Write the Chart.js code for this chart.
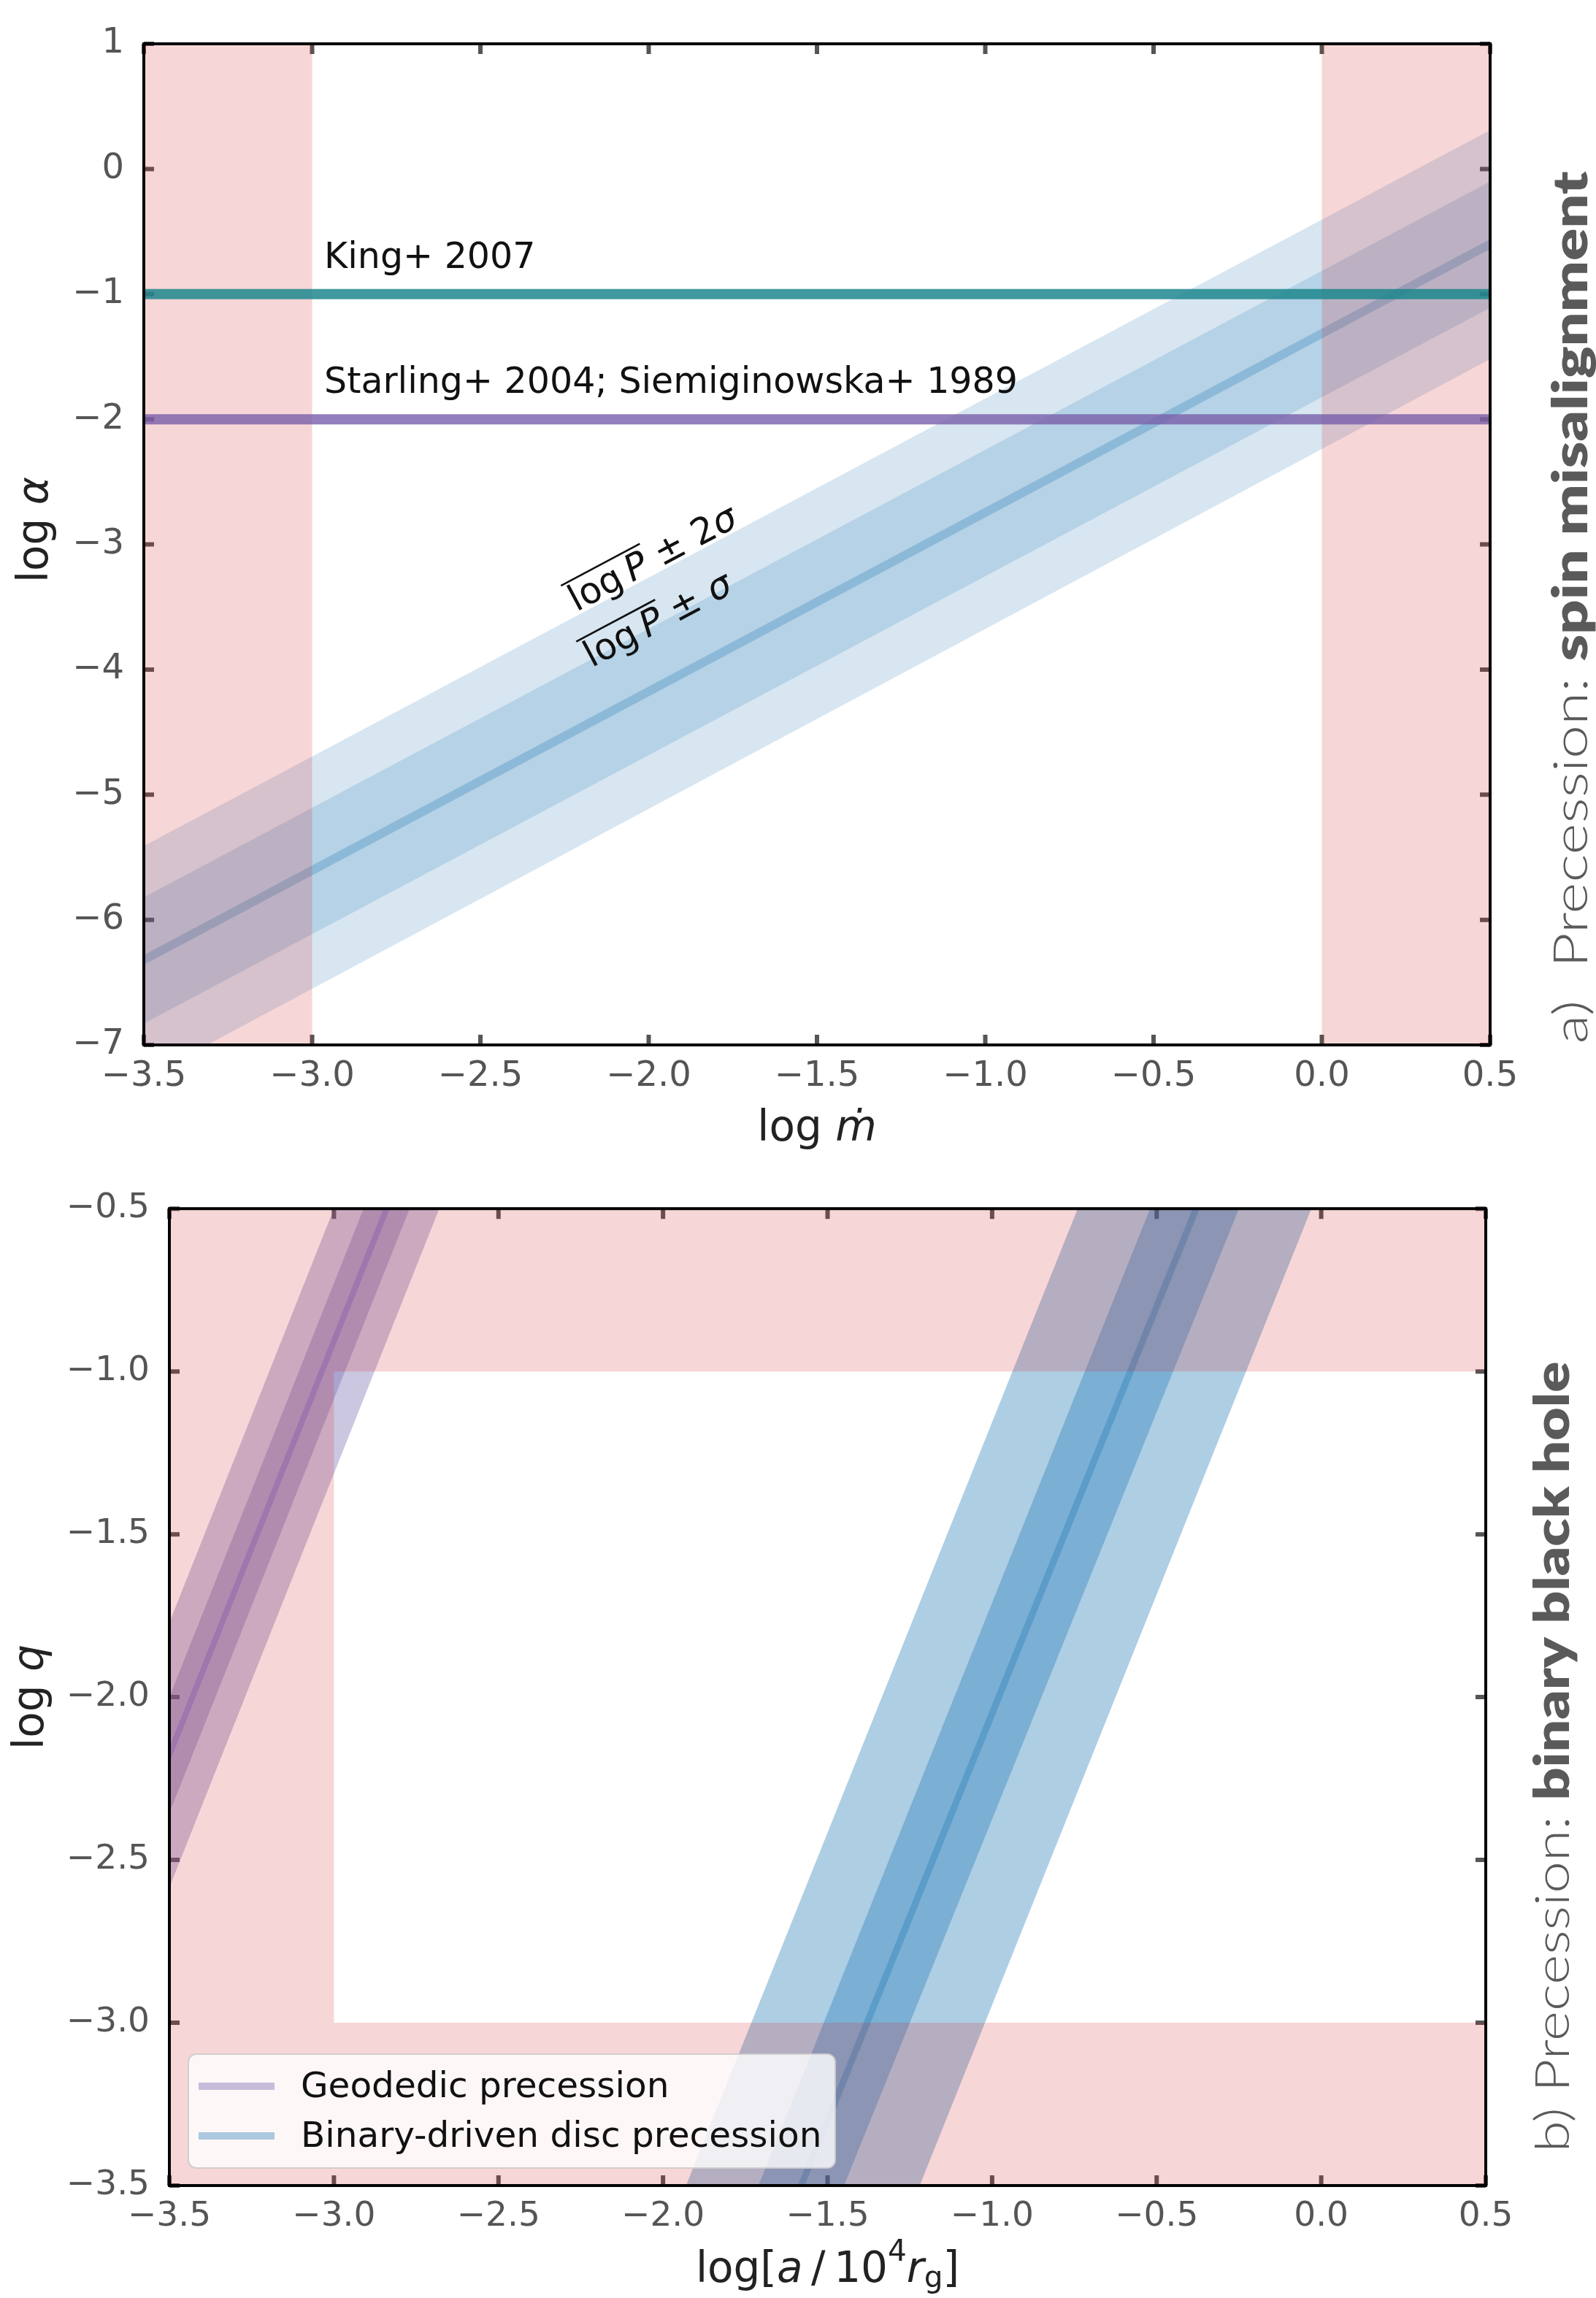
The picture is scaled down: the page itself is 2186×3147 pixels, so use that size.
<!DOCTYPE html>
<html>
<head>
<meta charset="utf-8">
<script src="https://cdn.jsdelivr.net/npm/chart.js@4.4.0/dist/chart.umd.min.js"></script>
<style>
  html, body { margin: 0; padding: 0; background: #ffffff; }
  #wrap { position: relative; width: 2186px; height: 3147px; overflow: hidden; }
  .panel { position: absolute; left: 0; width: 2186px; }
</style>
</head>
<body>
<div id="wrap">
  <div class="panel" style="top:0;height:1600px"><canvas id="chartA"></canvas></div>
  <div class="panel" style="top:1600px;height:1547px"><canvas id="chartB"></canvas></div>
</div>
<script>
// ---------------- DATA: panel a (spin misalignment) ----------------
const aXRange = [-3.5, 0.5];
const aYRange = [-7, 1];
const aBandX = [-3.5, 0.5];           // log m-dot at the two ends of the band
const aMean = [-6.32, -0.60];         // mean log alpha
const aSig1Lo = [-6.83, -1.11];
const aSig1Hi = [-5.82, -0.10];
const aSig2Lo = [-7.27, -1.52];
const aSig2Hi = [-5.41, 0.31];
const aKingY = [-1, -1];              // King+ 2007
const aStarlingY = [-2, -2];          // Starling+ 2004; Siemiginowska+ 1989
const aExcludedX = [[-3.5, -3.0], [0.0, 0.5]];
const aLabels = ['King+ 2007', 'Starling+ 2004; Siemiginowska+ 1989'];

// ---------------- DATA: panel b (binary black hole) ----------------
const bXRange = [-3.5, 0.5];
const bYRange = [-3.5, -0.5];
const bBandY = [-3.5, -0.5];          // log q at the two ends of the bands
const bBlueMean = [-1.58, -0.38];     // log a for binary-driven disc precession
const bBlue1Lo = [-1.71, -0.52];
const bBlue1Hi = [-1.45, -0.25];
const bBlue2Lo = [-1.93, -0.74];
const bBlue2Hi = [-1.22, -0.03];
const bGeoMean = [-4.02, -2.84];      // log a for geodetic precession
const bGeo1Lo = [-4.09, -2.91];
const bGeo1Hi = [-3.95, -2.77];
const bGeo2Lo = [-4.18, -3.00];
const bGeo2Hi = [-3.86, -2.68];
const bExcluded = [                   // [xmin, xmax, ymin, ymax]
  [-3.5, -3.0, -3.5, -0.5],
  [-3.0, 0.5, -1.0, -0.5],
  [-3.0, 0.5, -3.5, -3.0]
];
const bLegendLabels = ['Geodedic precession', 'Binary-driven disc precession'];

// ---------------- helpers ----------------
const FAM = "'DejaVu Sans', 'Liberation Sans', sans-serif";
const fmt1 = v => (v < 0 ? '\u2212' : '') + Math.abs(v).toFixed(1);
const fmt0 = v => (v < 0 ? '\u2212' : '') + Math.abs(Math.round(v));

function bandXY(xs, lo, hi) {        // band defined along x
  return [{x: xs[0], y: lo[0]}, {x: xs[1], y: lo[1]}, {x: xs[1], y: hi[1]}, {x: xs[0], y: hi[0]}, {x: xs[0], y: lo[0]}];
}
function bandYX(ys, lo, hi) {        // band defined along y
  return [{x: lo[0], y: ys[0]}, {x: lo[1], y: ys[1]}, {x: hi[1], y: ys[1]}, {x: hi[0], y: ys[0]}, {x: lo[0], y: ys[0]}];
}
function rect(x0, x1, y0, y1) {
  return [{x: x0, y: y0}, {x: x1, y: y0}, {x: x1, y: y1}, {x: x0, y: y1}, {x: x0, y: y0}];
}
function shapeDS(data, color, order) {
  return {type: 'line', data, fill: 'shape', backgroundColor: color, borderColor: 'rgba(0,0,0,0)',
          borderWidth: 0, pointRadius: 0, pointHoverRadius: 0, tension: 0, order, clip: 0};
}
function lineDS(data, color, width, order) {
  return {type: 'line', data, fill: false, borderColor: color, borderWidth: width, pointRadius: 0,
          pointHoverRadius: 0, tension: 0, order, clip: 0, borderCapStyle: 'butt'};
}
function setFont(ctx, size, it, weight, fam) {
  ctx.font = (it ? 'italic ' : '') + (weight || 'normal') + ' ' + size + 'px ' + (fam || FAM);
}
function measureRich(ctx, parts, size) {
  let w = 0;
  for (const p of parts) { setFont(ctx, size * (p.s || 1), p.it); w += ctx.measureText(p.t).width; }
  return w;
}
function drawRich(ctx, parts, size, x, y) {
  let cx = x; const spans = [];
  for (const p of parts) {
    setFont(ctx, size * (p.s || 1), p.it);
    const w = ctx.measureText(p.t).width;
    ctx.fillText(p.t, cx, y + (p.dy || 0) * size);
    spans.push([cx, cx + w]);
    cx += w;
  }
  return spans;
}

// inward ticks on all four sides (drawn under the data like the reference)
const tickPlugin = {
  id: 'inTicks',
  beforeDatasetsDraw(chart) {
    const {ctx, chartArea: a, scales: {x, y}} = chart;
    ctx.save();
    ctx.strokeStyle = '#555555'; ctx.lineWidth = 6; ctx.lineCap = 'butt';
    const L = 14;
    ctx.beginPath();
    x.ticks.forEach(t => {
      const p = x.getPixelForValue(t.value);
      ctx.moveTo(p, a.bottom); ctx.lineTo(p, a.bottom - L);
      ctx.moveTo(p, a.top); ctx.lineTo(p, a.top + L);
    });
    y.ticks.forEach(t => {
      const p = y.getPixelForValue(t.value);
      ctx.moveTo(a.left, p); ctx.lineTo(a.left + L, p);
      ctx.moveTo(a.right, p); ctx.lineTo(a.right - L, p);
    });
    ctx.stroke();
    ctx.restore();
  }
};
const framePlugin = {
  id: 'frame',
  afterDatasetsDraw(chart) {
    const {ctx, chartArea: a} = chart;
    ctx.save(); ctx.strokeStyle = '#000'; ctx.lineWidth = 4;
    ctx.strokeRect(a.left, a.top, a.right - a.left, a.bottom - a.top);
    ctx.restore();
  }
};
// axis titles with mixed upright / italic glyphs (matplotlib mathtext look)
const titlePlugin = {
  id: 'mathTitles',
  afterDraw(chart, args, o) {
    const {ctx, chartArea: a} = chart;
    ctx.save(); ctx.fillStyle = '#222'; ctx.textBaseline = 'middle';
    const size = o.size;
    const wx = measureRich(ctx, o.x, size);
    drawRich(ctx, o.x, size, (a.left + a.right) / 2 - wx / 2, a.bottom + o.xOff);
    ctx.translate(a.left - o.yOff, (a.top + a.bottom) / 2 + (o.yShift || 0));
    ctx.rotate(-Math.PI / 2);
    const wy = measureRich(ctx, o.y, size);
    drawRich(ctx, o.y, size, -wy / 2, 0);
    ctx.restore();
  }
};
// vertical panel captions at the right (light + bold)
const sideLabelPlugin = {
  id: 'sideLabel',
  afterDraw(chart, args, o) {
    const {ctx} = chart;
    ctx.save();
    ctx.fillStyle = '#5a5a5a'; ctx.textBaseline = 'alphabetic';
    const size = 66;
    let w = 0;
    for (const p of o.parts) { setFont(ctx, size, false, p.w, "Lato, 'Open Sans', sans-serif"); w += ctx.measureText(p.t).width; }
    ctx.translate(o.cx, o.cy);
    ctx.rotate(-Math.PI / 2);
    ctx.scale(o.len / w, 1);
    let cx = -w / 2;
    for (const p of o.parts) {
      setFont(ctx, size, false, p.w, "Lato, 'Open Sans', sans-serif");
      ctx.fillText(p.t, cx, size * 0.36);
      cx += ctx.measureText(p.t).width;
    }
    ctx.restore();
  }
};
// text annotations in data coordinates
const annotPlugin = {
  id: 'annot',
  afterDatasetsDraw(chart, args, o) {
    const {ctx, scales: {x, y}} = chart;
    ctx.save(); ctx.fillStyle = '#111'; ctx.textBaseline = 'alphabetic';
    for (const t of (o.plain || [])) {
      setFont(ctx, t.size);
      ctx.fillText(t.text, x.getPixelForValue(t.x), y.getPixelForValue(t.y));
    }
    for (const t of (o.rich || [])) {
      const ang = Math.atan2(y.getPixelForValue(t.along[1][1]) - y.getPixelForValue(t.along[0][1]),
                             x.getPixelForValue(t.along[1][0]) - x.getPixelForValue(t.along[0][0]));
      ctx.save();
      ctx.translate(x.getPixelForValue(t.x), y.getPixelForValue(t.y));
      ctx.rotate(ang);
      const w = measureRich(ctx, t.parts, t.size);
      const spans = drawRich(ctx, t.parts, t.size, -w / 2, t.size * 0.36);
      const x0 = spans[0][0], x1 = spans[t.over - 1][1];
      ctx.fillRect(x0 - 2, t.size * 0.36 - t.size * 0.86, x1 - x0 + 6, 2.6);
      ctx.restore();
    }
    ctx.restore();
  }
};
// legend box inside panel b
const legendPlugin = {
  id: 'boxLegend',
  afterDatasetsDraw(chart, args, o) {
    const {ctx, chartArea: a} = chart;
    const bx = a.left + 26, bh = 156, by = a.bottom - 24 - bh, bw = 886;
    ctx.save();
    ctx.beginPath();
    ctx.roundRect(bx, by, bw, bh, 11);
    ctx.fillStyle = 'rgba(255,255,255,0.8)'; ctx.fill();
    ctx.strokeStyle = 'rgba(204,204,204,0.9)'; ctx.lineWidth = 2; ctx.stroke();
    ctx.textBaseline = 'middle'; ctx.fillStyle = '#111';
    o.labels.forEach((lab, i) => {
      const ry = by + 44 + i * 68;
      ctx.strokeStyle = o.colors[i]; ctx.lineWidth = 10; ctx.lineCap = 'butt';
      ctx.beginPath(); ctx.moveTo(bx + 14, ry); ctx.lineTo(bx + 118, ry); ctx.stroke();
      setFont(ctx, 48.5);
      ctx.fillText(lab, bx + 154, ry + 2);
    });
    ctx.restore();
  }
};

function baseScales(xr, yr, xStep, yStep, yFmt, yW, xH, tickSize) {
  return {
    x: {type: 'linear', min: xr[0], max: xr[1],
        afterFit: s => { s.height = xH; },
        grid: {display: false, drawTicks: false}, border: {display: false},
        ticks: {stepSize: xStep, callback: v => fmt1(v), color: '#555', padding: 15,
                font: {family: FAM, size: tickSize}, maxRotation: 0, autoSkip: false}},
    y: {type: 'linear', min: yr[0], max: yr[1],
        afterFit: s => { s.width = yW; },
        grid: {display: false, drawTicks: false}, border: {display: false},
        ticks: {stepSize: yStep, callback: yFmt, color: '#555', padding: 27,
                font: {family: FAM, size: tickSize}, autoSkip: false}}
  };
}
const common = {
  responsive: true, maintainAspectRatio: false, animation: false, devicePixelRatio: 1,
  events: [],
  plugins: {legend: {display: false}, tooltip: {enabled: false}}
};

// ---------------- panel a ----------------
const pink = 'rgba(214,39,40,0.19)';
new Chart(document.getElementById('chartA'), {
  type: 'line',
  data: {datasets: [
    shapeDS(bandXY(aBandX, aSig2Lo, aSig2Hi), 'rgba(31,119,180,0.18)', 9),
    shapeDS(bandXY(aBandX, aSig1Lo, aSig1Hi), 'rgba(31,119,180,0.18)', 8),
    lineDS(aBandX.map((v, i) => ({x: v, y: aMean[i]})), 'rgba(31,119,180,0.28)', 12, 7),
    ...aExcludedX.map(r => shapeDS(rect(r[0], r[1], aYRange[0], aYRange[1]), pink, 6.5)),
    lineDS(aXRange.map((v, i) => ({x: v, y: aStarlingY[i]})), 'rgba(120,95,170,0.8)', 14, 6),
    lineDS(aXRange.map((v, i) => ({x: v, y: aKingY[i]})), 'rgba(29,135,141,0.85)', 14, 5)
  ]},
  options: Object.assign({}, common, {
    layout: {padding: {top: 60, right: 145, left: 0, bottom: 0}},
    scales: baseScales(aXRange, aYRange, 0.5, 1, v => fmt0(v), 197, 169, 48),
    plugins: Object.assign({}, common.plugins, {
      mathTitles: {size: 58, xOff: 116, yOff: 147, yShift: -20,
        x: [{t: 'log '}, {t: '\u1E41', it: true}],
        y: [{t: 'log '}, {t: '\u03B1', it: true}]},
      sideLabel: {cx: 2150, cy: 832, len: 1195,
        parts: [{t: 'a)  Precession: ', w: 300}, {t: 'spin misalignment', w: 800}]},
      annot: {
        plain: [{text: aLabels[0], x: -2.964, y: -0.79, size: 49},
                {text: aLabels[1], x: -2.964, y: -1.79, size: 49}],
        rich: [
          {x: -1.99, y: -3.10, size: 50, over: 3, along: [[aBandX[0], aMean[0]], [aBandX[1], aMean[1]]],
           parts: [{t: 'log'}, {t: '\u2009'}, {t: 'P', it: true}, {t: ' \u00B1 2'}, {t: '\u03C3', it: true}]},
          {x: -1.975, y: -3.59, size: 50, over: 3, along: [[aBandX[0], aMean[0]], [aBandX[1], aMean[1]]],
           parts: [{t: 'log'}, {t: '\u2009'}, {t: 'P', it: true}, {t: ' \u00B1 '}, {t: '\u03C3', it: true}]}
        ]}
    })
  }),
  plugins: [tickPlugin, framePlugin, titlePlugin, sideLabelPlugin, annotPlugin]
});

// ---------------- panel b ----------------
const geoCol = 'rgba(117,107,177,0.38)';
const blueCol = 'rgba(31,119,180,0.36)';
new Chart(document.getElementById('chartB'), {
  type: 'line',
  data: {datasets: [
    shapeDS(bandYX(bBandY, bGeo2Lo, bGeo2Hi), geoCol, 9),
    shapeDS(bandYX(bBandY, bGeo1Lo, bGeo1Hi), geoCol, 8),
    lineDS(bBandY.map((v, i) => ({x: bGeoMean[i], y: v})), 'rgba(117,107,200,0.45)', 8, 7),
    shapeDS(bandYX(bBandY, bBlue2Lo, bBlue2Hi), blueCol, 6),
    shapeDS(bandYX(bBandY, bBlue1Lo, bBlue1Hi), blueCol, 5),
    lineDS(bBandY.map((v, i) => ({x: bBlueMean[i], y: v})), 'rgba(31,119,180,0.35)', 9, 4),
    ...bExcluded.map(r => shapeDS(rect(r[0], r[1], r[2], r[3]), pink, 1))
  ]},
  options: Object.assign({}, common, {
    layout: {padding: {top: 52, right: 151, left: 0, bottom: 0}},
    scales: baseScales(bXRange, bYRange, 0.5, 0.5, v => fmt1(v), 232, 154, 47),
    plugins: Object.assign({}, common.plugins, {
      mathTitles: {size: 58, xOff: 117, yOff: 188,
        x: [{t: 'log['}, {t: 'a', it: true}, {t: '\u2009/\u200910'}, {t: '4', s: 0.7, dy: -0.42},
            {t: 'r', it: true}, {t: 'g', s: 0.7, dy: 0.2}, {t: ']'}],
        y: [{t: 'log '}, {t: 'q', it: true}]},
      sideLabel: {cx: 2125, cy: 806, len: 1083,
        parts: [{t: 'b) Precession: ', w: 300}, {t: 'binary black hole', w: 800}]},
      boxLegend: {labels: bLegendLabels, colors: ['rgba(117,107,177,0.42)', 'rgba(31,119,180,0.37)']}
    })
  }),
  plugins: [tickPlugin, framePlugin, titlePlugin, sideLabelPlugin, legendPlugin]
});
</script>
</body>
</html>
